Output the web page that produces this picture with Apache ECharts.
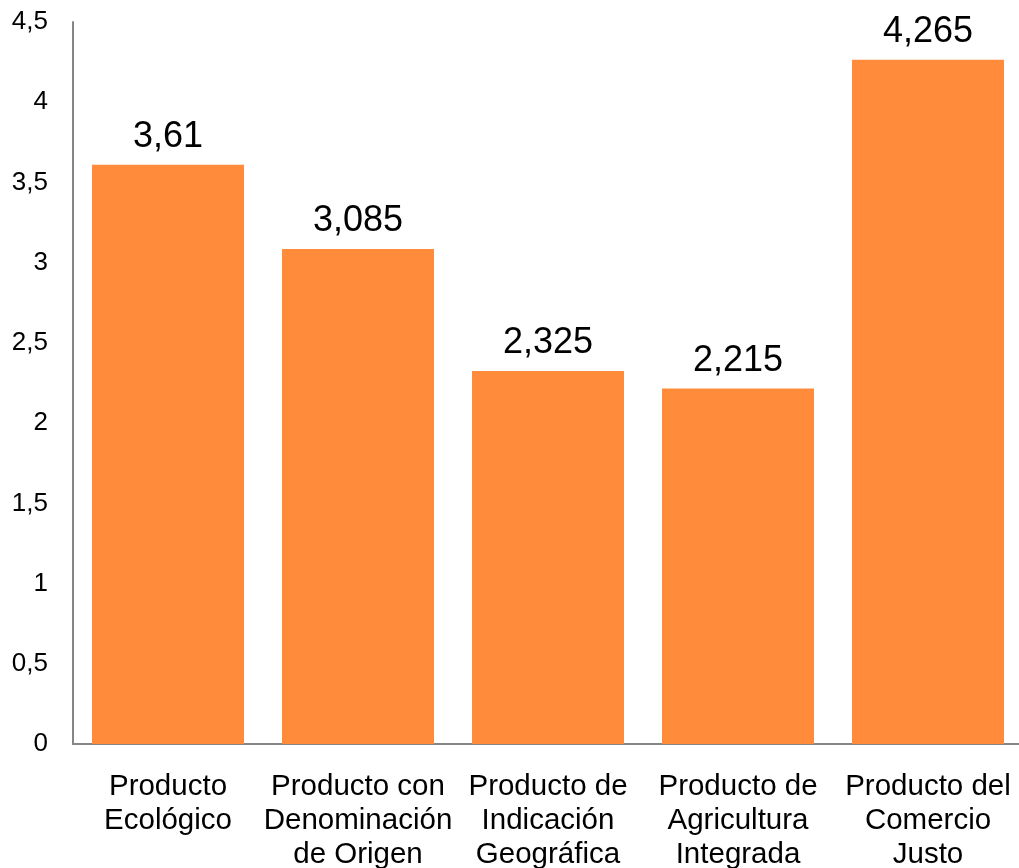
<!DOCTYPE html>
<html>
<head>
<meta charset="utf-8">
<script src="https://cdn.jsdelivr.net/npm/echarts@6/dist/echarts.min.js"></script>
<style>
  html, body { margin: 0; padding: 0; background: #fff; }
  #chart { width: 1019px; height: 868px; }
</style>
</head>
<body>
<div id="chart"></div>
<script>
// Product categories (multi-line labels)
const categories = [
  'Producto\nEcológico',
  'Producto con\nDenominación\nde Origen',
  'Producto de\nIndicación\nGeográfica',
  'Producto de\nAgricultura\nIntegrada',
  'Producto del\nComercio\nJusto'
];
// Average score per product type
const values = [3.61, 3.085, 2.325, 2.215, 4.265];
// Y axis range
const yMin = 0;
const yMax = 4.5;
const yStep = 0.5;

const fmt = v => String(v).replace('.', ',');
const font = '"Liberation Sans", Arial, sans-serif';

const chart = echarts.init(document.getElementById('chart'));
chart.setOption({
  animation: false,
  grid: {
    left: 73, top: 22, bottom: 124, width: 950,
    containLabel: false, outerBoundsMode: 'none'
  },
  xAxis: {
    type: 'category',
    data: categories,
    axisLine: { show: true, lineStyle: { color: '#868686', width: 2 } },
    axisTick: { show: false },
    axisLabel: {
      color: '#000', fontFamily: font, fontSize: 29.5, lineHeight: 34,
      margin: 26, interval: 0, align: 'center'
    }
  },
  yAxis: {
    type: 'value',
    min: yMin, max: yMax, interval: yStep,
    axisLine: { show: true, lineStyle: { color: '#868686', width: 2 } },
    axisTick: { show: false },
    splitLine: { show: false },
    axisLabel: {
      color: '#000', fontFamily: font, fontSize: 26, margin: 25,
      formatter: v => fmt(v)
    }
  },
  series: [{
    type: 'bar',
    data: values,
    barWidth: 152,
    itemStyle: { color: '#FF8B3B' },
    label: {
      show: true, position: 'top', distance: 10,
      color: '#000', fontFamily: font, fontSize: 36,
      formatter: p => fmt(p.value)
    }
  }]
});
</script>
</body>
</html>
